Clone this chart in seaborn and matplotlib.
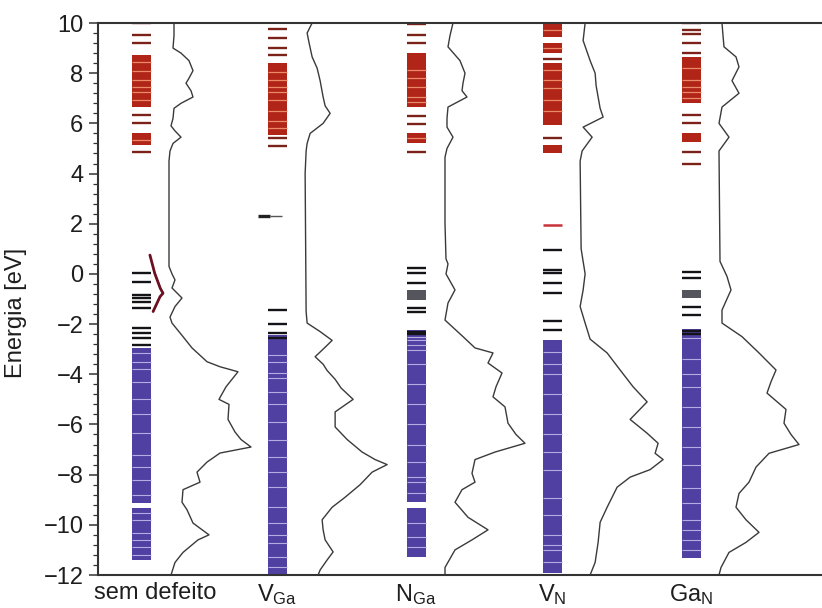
import numpy as np
import pandas as pd
import matplotlib
matplotlib.use("Agg")
import matplotlib.pyplot as plt
import matplotlib.transforms as mtransforms
from matplotlib.ticker import MultipleLocator
import seaborn as sns

# ---------------------------------------------------------------
# Data: Kohn-Sham levels (eV) and total DOS (arb. units) per system
# ---------------------------------------------------------------
columns = ["sem defeito", r"V$_{\rm Ga}$", r"N$_{\rm Ga}$", r"V$_{\rm N}$", r"Ga$_{\rm N}$"]

# --- sem defeito ---
sem_cb_blocks = [(6.65, 8.72), (5.14, 5.60)]
sem_cb_stripes = [8.45, 8.07, 7.73, 7.45, 7.25, 6.95, 5.34]
sem_cb_lines = [10.0, 9.52, 9.20, 6.33, 6.00, 4.86]
sem_gap_lines = [0.03, -0.33, -0.85, -0.97, -1.12, -1.36, -2.16, -2.36, -2.56, -2.83]
sem_gap_blocks = []
sem_vb_blocks = [(-9.13, -2.95), (-11.40, -9.33)]
sem_vb_stripes = [-3.17, -3.50, -3.80, -4.30, -5.00, -5.60, -6.35, -7.20, -7.68, -8.21,
                  -8.81, -9.54, -9.80, -10.34, -10.60, -10.87, -11.20]
sem_band_E = [0.75, 0.02, -0.57, -0.77, -0.91, -1.50]
sem_band_k = [0.065, 0.100, 0.140, 0.160, 0.138, 0.088]
sem_dos_E = [10, 9.5, 9.0, 8.8, 8.5, 8.1, 7.8, 7.6, 7.3, 7.05, 6.8, 6.6, 6.2, 5.9, 5.7,
             5.45, 5.2, 4.9, 4.5, 0.3, 0.0, -0.24, -0.56, -0.96, -1.3, -1.72, -1.96,
             -2.5, -2.95, -3.5, -3.7, -3.9, -4.5, -5.0, -5.2, -5.8, -6.3, -6.6, -6.9,
             -7.14, -7.5, -7.9, -8.3, -8.6, -9.1, -9.4, -9.93, -10.4, -10.6, -11.1,
             -11.5, -12]
sem_dos = [5, 5, 4, 12, 20, 24, 20, 17, 22, 24, 12, 5, 4, 2, 6,
           12, 4, 1, 0, 0, 3, 6, 3, 13, 6, 1, 3,
           14, 23, 38, 51, 69, 57, 50, 60, 59, 66, 72, 82,
           51, 38, 28, 31, 14, 13, 18, 24, 40, 29, 14,
           6, 2]

# --- V_Ga ---
vga_cb_blocks = [(5.54, 8.40)]
vga_cb_stripes = [8.06, 7.73, 7.45, 7.26, 6.93, 6.50, 6.10, 5.80]
vga_cb_lines = [9.75, 9.40, 9.00, 8.72, 5.42, 5.10]
vga_defect_level = 2.31
vga_gap_lines = [-1.44, -2.00, -2.36, -2.56]
vga_gap_blocks = []
vga_vb_blocks = [(-12.0, -2.44)]
vga_vb_stripes = [-3.23, -3.50, -3.96, -4.16, -4.70, -5.20, -5.90, -6.60, -7.30, -7.90,
                  -8.50, -9.28, -9.94, -10.40, -10.73, -11.27, -11.70]
vga_dos_E = [10, 9.6, 9.2, 8.65, 8.2, 7.7, 7.05, 6.7, 6.4, 6.0, 5.6, 5.2, 4.9, 4.0,
             -1.5, -1.96, -2.3, -2.65, -3.0, -3.3, -3.6, -3.85, -4.2, -4.55, -5.0,
             -5.5, -6.1, -6.6, -7.1, -7.4, -7.6, -7.9, -8.4, -8.9, -9.3, -9.8, -10.2,
             -10.6, -11.08, -11.4, -11.8, -12]
vga_dos = [7, 2, 4, 7, 12, 15, 18, 20, 25, 18, 5, 2, 1, 0,
           1, 2, 15, 27, 18, 10, 18, 22, 30, 36, 48,
           30, 30, 42, 57, 70, 82, 67, 55, 40, 27, 17, 18,
           20, 28, 22, 15, 13]

# --- N_Ga ---
nga_cb_blocks = [(6.65, 8.80), (5.20, 5.62)]
nga_cb_stripes = [8.13, 7.80, 7.46, 7.06, 6.85, 5.40]
nga_cb_lines = [9.96, 9.52, 9.20, 6.30, 5.97, 4.86]
nga_gap_lines = [0.24, 0.03, -0.36, -1.36, -1.52, -2.30, -2.40]
nga_gap_blocks = [(-1.04, -0.64)]
nga_vb_blocks = [(-9.09, -2.24), (-11.28, -9.33)]
nga_vb_stripes = [-2.50, -2.63, -2.83, -3.03, -3.60, -4.40, -5.20, -6.00, -6.80, -7.50,
                  -8.08, -8.28, -8.75, -9.94, -10.50, -10.90]
nga_dos_E = [10, 9.5, 9.05, 8.5, 8.0, 7.6, 7.3, 7.05, 6.65, 6.2, 5.85, 5.45, 5.0, 4.65,
             2.0, 0.6, 0.4, 0.0, -0.64, -1.16, -1.84, -2.5, -2.95, -3.15, -3.55, -3.95,
             -4.5, -4.9, -5.3, -5.95, -6.4, -6.75, -7.1, -7.4, -7.95, -8.3, -8.6, -9.1,
             -9.7, -10.2, -10.6, -11.0, -11.7, -12]
nga_dos = [9, 6, 4, 16, 21, 19, 18, 23, 4, 3, 3, 9, 3, 1,
           1, 2, 4, 2, 11, 4, 1, 19, 31, 49, 44, 58,
           52, 49, 61, 64, 72, 81, 51, 31, 28, 31, 18, 11,
           24, 44, 28, 11, 1, 1]

# --- V_N ---
vn_cb_blocks = [(9.44, 10.0), (8.80, 9.20), (5.93, 8.40), (4.82, 5.14)]
vn_cb_stripes = [9.72, 8.99, 8.13, 7.73, 7.40, 6.93, 6.50]
vn_cb_lines = [8.56, 5.42]
vn_defect_level = 1.95
vn_gap_lines = [0.95, 0.16, 0.04, -0.36, -0.76, -1.88, -2.24]
vn_gap_blocks = []
vn_vb_blocks = [(-11.92, -2.64)]
vn_vb_stripes = [-3.10, -3.60, -4.00, -4.80, -5.60, -6.40, -7.10, -7.80, -8.93,
                 -9.60, -10.40, -10.80, -11.00, -11.50]
vn_dos_E = [10, 9.3, 8.5, 8.0, 7.5, 7.05, 6.6, 6.25, 5.85, 5.45, 4.9, 4.5, 1.0, 0.0,
            -0.64, -1.3, -1.96, -2.6, -3.15, -3.83, -4.5, -5.1, -5.8, -6.35, -6.75,
            -7.15, -7.4, -7.8, -8.1, -8.5, -9.3, -9.9, -10.7, -11.5, -12]
vn_dos = [5, 3, 10, 15, 16, 18, 20, 23, 3, 12, 2, 0, 1, 5,
          3, 0, 5, 10, 27, 40, 53, 67, 50, 67, 78,
          75, 83, 70, 50, 37, 27, 20, 18, 15, 10]

# --- Ga_N ---
gan_cb_blocks = [(6.80, 8.65), (5.26, 5.62)]
gan_cb_stripes = [8.19, 7.73, 7.45, 7.26, 7.00]
gan_cb_lines = [10.0, 9.74, 9.55, 9.20, 8.80, 6.33, 6.00, 4.86, 4.38]
gan_gap_lines = [0.08, -0.17, -1.32, -1.64, -2.26, -2.40]
gan_gap_blocks = [(-0.96, -0.64)]
gan_vb_blocks = [(-11.32, -2.20)]
gan_vb_stripes = [-2.56, -3.40, -4.00, -4.50, -5.30, -6.10, -6.90, -7.60, -8.53, -9.13,
                  -9.80, -10.20, -10.60, -11.00]
gan_dos_E = [10, 9.5, 9.05, 8.65, 8.25, 7.7, 7.2, 6.65, 6.0, 5.45, 4.9, 0.5, -0.1,
             -0.64, -1.44, -1.96, -2.5, -3.15, -3.83, -4.3, -4.75, -5.4, -5.95, -6.4,
             -6.8, -7.15, -7.7, -8.3, -8.75, -9.3, -9.8, -10.3, -10.7, -11.1, -11.7, -12]
gan_dos = [3, 4, 5, 17, 20, 13, 20, 3, 0, 10, 0, 1, 8,
           12, 3, 3, 23, 40, 57, 52, 48, 67, 65, 72,
           80, 50, 37, 30, 20, 17, 27, 40, 27, 10, 2, 0]

# ---------------------------------------------------------------
# Layout and styling
# ---------------------------------------------------------------
sns.set_theme(style="ticks")
plt.rcParams["font.family"] = ["Liberation Sans", "DejaVu Sans"]
plt.rcParams["mathtext.fontset"] = "custom"
plt.rcParams["mathtext.rm"] = "Liberation Sans"
plt.rcParams["mathtext.it"] = "Liberation Sans:italic"

FS = 17
PX = 1.0 / 137.5          # column units per pixel
HALF = 9.5 * PX           # half width of a level bar
DOS_OFF = 28 * PX         # DOS baseline offset from bar centre
col_x = [0.0, 0.99, 2.0, 2.99, 4.0]

CB_COLOR = "#b02518"
CB_LIGHT = "#ec8a68"
CB_LINE = "#7a2219"
VB_COLOR = "#5040a2"
VB_LIGHT = "#b6ace4"
LEVEL = "#141418"
GAP_BLOCK = "#55555e"
DOS_COLOR = "#3a3a3a"
TEXT = "#1e1e1e"

fig = plt.figure(figsize=(8.22, 6.08), dpi=100)
ax = fig.add_axes([98 / 822, 1 - 575 / 608, 724 / 822, 552 / 608])


def draw_column(x0, cb_blocks, cb_stripes, cb_lines, gap_lines, gap_blocks,
                vb_blocks, vb_stripes, dos_E, dos_v):
    w = 2 * HALF
    for lo, hi in cb_blocks:
        ax.bar(x0, hi - lo, bottom=lo, width=w, color=CB_COLOR, linewidth=0)
    ax.hlines(cb_stripes, x0 - HALF, x0 + HALF, colors=CB_LIGHT, lw=0.9)
    ax.hlines(cb_lines, x0 - HALF, x0 + HALF, colors=CB_LINE, lw=1.7)
    for lo, hi in gap_blocks:
        ax.bar(x0, hi - lo, bottom=lo, width=w, color=GAP_BLOCK, linewidth=0)
    for lo, hi in vb_blocks:
        ax.bar(x0, hi - lo, bottom=lo, width=w, color=VB_COLOR, linewidth=0)
    ax.hlines(vb_stripes, x0 - HALF, x0 + HALF, colors=VB_LIGHT, lw=0.8)
    ax.hlines(gap_lines, x0 - HALF, x0 + HALF, colors=LEVEL, lw=1.7)
    df = pd.DataFrame({"E": dos_E, "x": x0 + DOS_OFF + np.asarray(dos_v) * PX})
    sns.lineplot(data=df, x="x", y="E", sort=False, estimator=None,
                 color=DOS_COLOR, lw=1.0, ax=ax)


draw_column(col_x[0], sem_cb_blocks, sem_cb_stripes, sem_cb_lines, sem_gap_lines,
            sem_gap_blocks, sem_vb_blocks, sem_vb_stripes, sem_dos_E, sem_dos)
draw_column(col_x[1], vga_cb_blocks, vga_cb_stripes, vga_cb_lines, vga_gap_lines,
            vga_gap_blocks, vga_vb_blocks, vga_vb_stripes, vga_dos_E, vga_dos)
draw_column(col_x[2], nga_cb_blocks, nga_cb_stripes, nga_cb_lines, nga_gap_lines,
            nga_gap_blocks, nga_vb_blocks, nga_vb_stripes, nga_dos_E, nga_dos)
draw_column(col_x[3], vn_cb_blocks, vn_cb_stripes, vn_cb_lines, vn_gap_lines,
            vn_gap_blocks, vn_vb_blocks, vn_vb_stripes, vn_dos_E, vn_dos)
draw_column(col_x[4], gan_cb_blocks, gan_cb_stripes, gan_cb_lines, gan_gap_lines,
            gan_gap_blocks, gan_vb_blocks, gan_vb_stripes, gan_dos_E, gan_dos)

# dispersive defect band next to the perfect-crystal column
sns.lineplot(x=col_x[0] + np.asarray(sem_band_k), y=sem_band_E, sort=False,
             estimator=None, color="#6a1020", lw=2.0, ax=ax)

# V_Ga localized level (tapered mark)
ax.hlines(vga_defect_level, col_x[1] - 19 * PX, col_x[1] - 7 * PX, colors="#222222", lw=2.4)
ax.hlines(vga_defect_level, col_x[1] - 7 * PX, col_x[1] + 5 * PX, colors="#555555", lw=1.0)

# V_N localized level
ax.hlines(vn_defect_level, col_x[3] - HALF, col_x[3] + HALF, colors="#c8323a", lw=1.8)

# axes
ax.set_xlim(-43 * PX, 681 * PX)
ax.set_ylim(-12, 10)
ax.set_yticks(np.arange(-12, 11, 2))
ax.yaxis.set_minor_locator(MultipleLocator(0.4))
ax.set_xticks(col_x)
ax.set_xticklabels(columns, fontsize=FS, color=TEXT)
ax.tick_params(axis="x", length=0, pad=5)
ax.tick_params(axis="y", which="major", length=6.5, width=1.1, labelsize=FS,
               pad=4, color="#333333", labelcolor=TEXT)
ax.tick_params(axis="y", which="minor", length=3.5, width=0.9, color="#333333")
ax.set_xlabel("")
ax.set_ylabel("Energia [eV]", fontsize=FS, color=TEXT)
ax.yaxis.set_label_coords(-0.098, 0.475)

first = ax.get_xticklabels()[0]
first.set_transform(first.get_transform() +
                    mtransforms.ScaledTranslation(0.14, 0, fig.dpi_scale_trans))

for side in ["left", "top", "bottom"]:
    ax.spines[side].set_color("#333333")
    ax.spines[side].set_linewidth(1.5)
ax.spines["right"].set_visible(False)
ax.grid(False)
ax.set_facecolor("white")
fig.patch.set_facecolor("white")

fig.savefig("out.png", dpi=100)
